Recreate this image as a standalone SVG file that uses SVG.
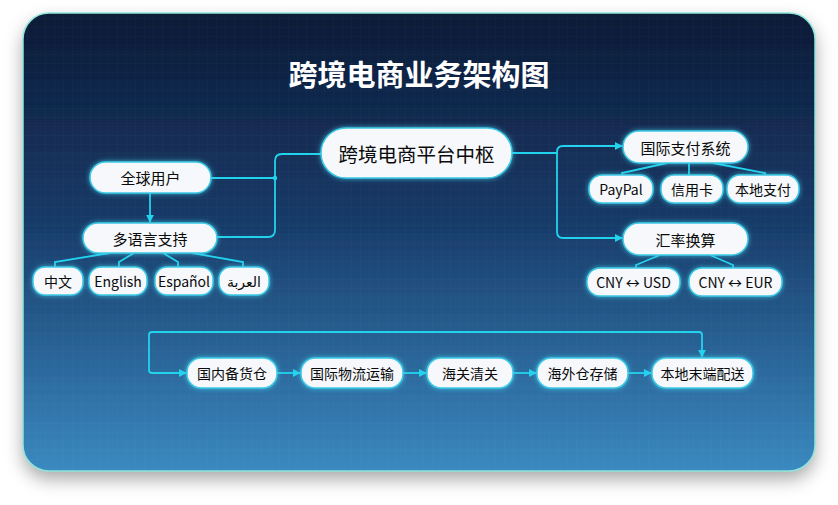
<svg xmlns="http://www.w3.org/2000/svg" width="838" height="505" viewBox="0 0 838 505">
<defs>
<linearGradient id="bg" x1="0" y1="0" x2="0" y2="1">
<stop offset="0" stop-color="#0c1a36"/>
<stop offset="0.45" stop-color="#173a68"/>
<stop offset="1" stop-color="#3a89c0"/>
</linearGradient>
<pattern id="grid" width="9" height="9" patternUnits="userSpaceOnUse">
<path d="M9 0H0V9" fill="none" stroke="#ffffff" stroke-opacity="0.03" stroke-width="1"/>
</pattern>
<filter id="shadow" x="-10%" y="-10%" width="120%" height="130%">
<feDropShadow dx="0" dy="8" stdDeviation="9" flood-color="#000" flood-opacity="0.35"/>
</filter>
<filter id="glow" x="-30%" y="-50%" width="160%" height="200%">
<feDropShadow dx="0" dy="0" stdDeviation="2.5" flood-color="#3fd6f0" flood-opacity="0.75"/>
</filter>
<marker id="arr" viewBox="0 0 10 10" refX="9" refY="5" markerWidth="8" markerHeight="8" markerUnits="userSpaceOnUse" orient="auto-start-reverse">
<path d="M0,0 L10,5 L0,10 z" fill="#22d3ee"/>
</marker>
<style>
.node rect{fill:#f6f8fb;stroke:#3cc9e6;stroke-width:1.5;filter:url(#glow)}
.node text{fill:#0a0a0a;font-family:"Noto Sans CJK SC","DejaVu Sans",sans-serif;font-weight:400;text-anchor:middle;dominant-baseline:central;font-size:15px}
.node.sm text{font-size:14px}
.node.hub text{font-size:19.5px}
.edges path,.edges line{fill:none;stroke:#22d3ee;stroke-width:1.8}
.title{fill:#fff;font-family:"Noto Sans CJK SC",sans-serif;font-weight:bold;font-size:29px;text-anchor:middle;dominant-baseline:central}
</style>
</defs>
<rect width="838" height="505" fill="#ffffff"/>
<rect x="23" y="13" width="792" height="458" rx="26" fill="url(#bg)" filter="url(#shadow)"/>
<rect x="23" y="13" width="792" height="458" rx="26" fill="url(#grid)"/>
<rect x="23" y="13" width="792" height="458" rx="26" fill="none" stroke="#8fe6dc" stroke-width="1.5"/>
<text class="title" x="419" y="73">跨境电商业务架构图</text>

<g class="edges">
<path d="M211,178 H275"/>
<circle cx="275" cy="178" r="2.2" fill="#22d3ee"/>
<path d="M217,237 H268 Q275,237 275,230 V161 Q275,154 282,154 H321"/>
<path d="M150,193 V222" marker-end="url(#arr)"/>
<path d="M512,153 H557 V232 Q557,238 563,238 H622" marker-end="url(#arr)"/>
<path d="M557,153 V152 Q557,146 563,146 H622" marker-end="url(#arr)"/>
<path d="M667,163 L622,173 V175"/>
<path d="M689,163 V175"/>
<path d="M713,163 L765,173 V175"/>
<path d="M660,255 L636,265 V268"/>
<path d="M710,255 L733,265 V268"/>
<path d="M110,253 L55,262 V267"/>
<path d="M134,253 L119,262 V267"/>
<path d="M163,253 L178,262 V267"/>
<path d="M192,253 L243,262 V267"/>
<path d="M277,373 H300" marker-end="url(#arr)"/>
<path d="M403,373 H426" marker-end="url(#arr)"/>
<path d="M513,373 H536" marker-end="url(#arr)"/>
<path d="M628,373 H651" marker-end="url(#arr)"/>
<path d="M702,357 V335 Q702,332 699,332 H152 Q149,332 149,335 V370 Q149,373 152,373 H186" marker-start="url(#arr)" marker-end="url(#arr)"/>
</g>

<g id="hub" class="node hub"><rect x="321" y="128" width="191" height="50" rx="25"/><text x="416.5" y="153">跨境电商平台中枢</text></g>
<g id="users" class="node"><rect x="90" y="162" width="121" height="31" rx="15.5"/><text x="150.5" y="177.5">全球用户</text></g>
<g id="multilang" class="node"><rect x="83" y="223" width="134" height="30" rx="15"/><text x="150" y="238">多语言支持</text></g>
<g id="zh" class="node sm"><rect x="33" y="267" width="50" height="28" rx="12"/><text x="58" y="281">中文</text></g>
<g id="en" class="node sm"><rect x="89" y="267" width="58" height="28" rx="12"/><text x="118" y="281">English</text></g>
<g id="es" class="node sm"><rect x="155" y="267" width="58" height="28" rx="12"/><text x="184" y="281">Español</text></g>
<g id="ar" class="node sm"><rect x="219" y="267" width="50" height="28" rx="12"/><text x="244" y="281">العربة</text></g>
<g id="pay" class="node"><rect x="623" y="131" width="125" height="32" rx="16"/><text x="685.5" y="147">国际支付系统</text></g>
<g id="paypal" class="node sm"><rect x="589" y="175" width="64" height="28" rx="13"/><text x="621" y="189">PayPal</text></g>
<g id="card" class="node sm"><rect x="661" y="175" width="62" height="28" rx="13"/><text x="692" y="189">信用卡</text></g>
<g id="localpay" class="node sm"><rect x="727" y="175" width="72" height="28" rx="13"/><text x="763" y="189">本地支付</text></g>
<g id="fx" class="node"><rect x="623" y="223" width="125" height="32" rx="16"/><text x="685.5" y="239">汇率换算</text></g>
<g id="usd" class="node sm"><rect x="587" y="268" width="93" height="28" rx="13"/><text x="633.5" y="282">CNY ↔ USD</text></g>
<g id="eur" class="node sm"><rect x="689" y="268" width="93" height="28" rx="13"/><text x="735.5" y="282">CNY ↔ EUR</text></g>
<g id="warehouse" class="node sm"><rect x="187" y="358" width="90" height="30" rx="14"/><text x="232" y="373">国内备货仓</text></g>
<g id="logistics" class="node sm"><rect x="301" y="358" width="102" height="30" rx="14"/><text x="352" y="373">国际物流运输</text></g>
<g id="customs" class="node sm"><rect x="427" y="358" width="86" height="30" rx="14"/><text x="470" y="373">海关清关</text></g>
<g id="overseas" class="node sm"><rect x="537" y="358" width="91" height="30" rx="14"/><text x="582.5" y="373">海外仓存储</text></g>
<g id="delivery" class="node sm"><rect x="652" y="358" width="101" height="30" rx="14"/><text x="702.5" y="373">本地末端配送</text></g>
</svg>
